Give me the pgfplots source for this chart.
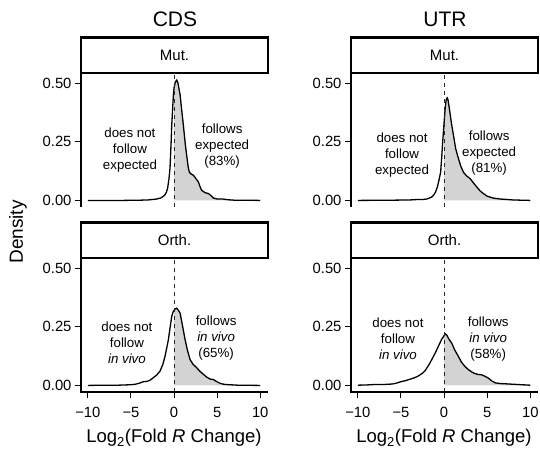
\documentclass[border=0pt]{standalone}
\usepackage{fontspec}
\setmainfont{Liberation Sans}
\usepackage{pgfplots}
\usepackage{pgfplotstable}
\pgfplotsset{compat=1.18}
\definecolor{shade}{RGB}{211,211,211}

% density curves
\pgfplotstableread{
x y
-10 0
-6 0
-4 0.001
-3 0.002
-2.5 0.004
-2.0 0.006
-1.5 0.011
-1.1 0.022
-0.9 0.034
-0.75 0.052
-0.6 0.09
-0.47 0.137
-0.35 0.24
-0.27 0.32
-0.15 0.40
-0.08 0.45
0 0.48
0.15 0.505
0.31 0.513
0.45 0.50
0.70 0.45
0.9 0.38
1.08 0.32
1.3 0.24
1.47 0.19
1.65 0.14
1.78 0.12
2.0 0.112
2.25 0.107
2.5 0.095
2.83 0.078
3.0 0.06
3.2 0.043
3.6 0.033
4.0 0.029
4.3 0.02
4.57 0.01
5.0 0.006
5.7 0.006
6.2 0.003
7 0.001
8 0.001
10 0
}\cdsmut

\pgfplotstableread{
x y
-10 0
-6 0.001
-4 0.002
-3 0.004
-2.5 0.004
-2.0 0.006
-1.5 0.013
-1.24 0.021
-1.0 0.035
-0.78 0.057
-0.6 0.085
-0.4 0.12
-0.28 0.18
-0.16 0.25
0 0.33
0.12 0.39
0.25 0.43
0.35 0.437
0.45 0.43
0.62 0.39
0.85 0.33
1.08 0.28
1.35 0.22
1.67 0.178
1.95 0.145
2.25 0.12
2.6 0.105
3.02 0.093
3.4 0.075
3.8 0.057
4.2 0.04
4.57 0.029
5.0 0.018
5.7 0.01
6.5 0.006
7.3 0.004
8 0.002
9 0.001
10 0
}\utrmut

\pgfplotstableread{
x y
-10 0
-8 0.001
-6.5 0.001
-5 0.003
-4.5 0.005
-4 0.01
-3.56 0.016
-3.18 0.017
-2.8 0.022
-2.4 0.033
-2.0 0.045
-1.63 0.061
-1.3 0.09
-1.05 0.124
-0.85 0.16
-0.66 0.195
-0.45 0.25
-0.27 0.294
-0.1 0.315
0 0.32
0.1 0.325
0.31 0.329
0.5 0.32
0.70 0.308
0.95 0.26
1.28 0.195
1.55 0.15
1.86 0.11
2.2 0.09
2.64 0.075
3.0 0.06
3.41 0.047
3.8 0.035
4.19 0.027
4.57 0.025
4.96 0.016
5.4 0.008
5.93 0.004
7.4 0.001
10 0
}\cdsorth

\pgfplotstableread{
x y
-10 0.001
-9 0.002
-8 0.004
-7 0.004
-6 0.006
-5.5 0.01
-5 0.016
-4.5 0.02
-4 0.026
-3.4 0.033
-3 0.04
-2.5 0.052
-2.2 0.063
-1.8 0.085
-1.43 0.11
-1.0 0.14
-0.66 0.167
-0.3 0.195
0 0.212
0.12 0.22
0.3 0.215
0.6 0.195
0.89 0.18
1.25 0.15
1.67 0.123
2.0 0.1
2.44 0.08
2.9 0.065
3.41 0.053
3.9 0.047
4.38 0.045
4.8 0.038
5.15 0.031
5.5 0.02
5.93 0.011
6.5 0.008
7.1 0.007
8 0.005
9 0.003
10 0.001
}\utrorth

\tikzset{
  curve/.style={black, line width=1.3pt},
  zero/.style={black!85, line width=1.1pt, dash pattern=on 4pt off 4pt},
  note/.style={align=center, font=\fontsize{13.3}{16}\selectfont},
  frame/.style={line width=1.6pt, black},
}

\pgfplotsset{
  panel/.style={
    scale only axis, width=187pt, height=134pt,
    xmin=-10.8, xmax=10.9, ymin=-0.028, ymax=0.543,
    axis line style={draw=none},
    xtick pos=left, ytick pos=left,
    tick align=outside, major tick length=6pt,
    tick style={line width=1pt, black},
    ytick={0,0.25,0.5}, yticklabels={0.00,0.25,0.50},
    ticklabel style={font=\fontsize{14.8}{17}\selectfont},
    clip=false,
  },
  toppanel/.style={panel, xtick=\empty},
  botpanel/.style={panel,
    xtick={-10,-5,0,5,10}, xticklabels={−10,−5,0,5,10},
    xticklabel style={yshift=-6pt}},
  area/.style={fill=shade, draw=none, restrict x to domain=0:10},
}

\newcommand{\strip}[1]{%
  \draw[line width=2.5pt] (rel axis cs:0,1) rectangle (rel axis cs:1,1.265);
  \node[font=\fontsize{15}{17}\selectfont] at (rel axis cs:0.5,1.1325) {#1};
}

\begin{document}
\begin{tikzpicture}
\useasboundingbox (0,0) rectangle (540pt,449pt);

\begin{axis}[toppanel, at={(81pt,242pt)}, anchor=south west]
\addplot[area] table {\cdsmut} \closedcycle;
\addplot[curve] table {\cdsmut};
\addplot[zero] coordinates {(0,-0.028) (0,0.543)};
\node[note] at (axis cs:-5.12,0.214) {does not\\follow\\expected};
\node[note] at (axis cs:5.58,0.231) {follows\\expected\\(83\%)};
\draw[frame] (rel axis cs:0,1) -- (rel axis cs:0,0);
\strip{Mut.}
\end{axis}

\begin{axis}[toppanel, at={(351pt,242pt)}, anchor=south west]
\addplot[area] table {\utrmut} \closedcycle;
\addplot[curve] table {\utrmut};
\addplot[zero] coordinates {(0,-0.028) (0,0.543)};
\node[note] at (axis cs:-4.88,0.192) {does not\\follow\\expected};
\node[note] at (axis cs:5.23,0.201) {follows\\expected\\(81\%)};
\draw[frame] (rel axis cs:0,1) -- (rel axis cs:0,0);
\strip{Mut.}
\end{axis}

\begin{axis}[botpanel, at={(81pt,57pt)}, anchor=south west]
\addplot[area] table {\cdsorth} \closedcycle;
\addplot[curve] table {\cdsorth};
\addplot[zero] coordinates {(0,-0.028) (0,0.543)};
\node[note] at (axis cs:-5.47,0.182) {does not\\follow\\\textit{in vivo}};
\node[note] at (axis cs:4.88,0.203) {follows\\\textit{in vivo}\\(65\%)};
\draw[frame] (rel axis cs:0,1) -- (rel axis cs:0,0) -- (rel axis cs:1,0);
\strip{Orth.}
\end{axis}

\begin{axis}[botpanel, at={(351pt,57pt)}, anchor=south west]
\addplot[area] table {\utrorth} \closedcycle;
\addplot[curve] table {\utrorth};
\addplot[zero] coordinates {(0,-0.028) (0,0.543)};
\node[note] at (axis cs:-5.35,0.199) {does not\\follow\\\textit{in vivo}};
\node[note] at (axis cs:5.12,0.199) {follows\\\textit{in vivo}\\(58\%)};
\draw[frame] (rel axis cs:0,1) -- (rel axis cs:0,0) -- (rel axis cs:1,0);
\strip{Orth.}
\end{axis}

\node[font=\fontsize{21}{24}\selectfont] at (175pt,430pt) {CDS};
\node[font=\fontsize{21}{24}\selectfont] at (445pt,430pt) {UTR};
\node[font=\fontsize{19}{22}\selectfont, rotate=90] at (18pt,217pt) {Density};
\node[font=\fontsize{18.5}{22}\selectfont, anchor=base] at (174pt,6pt) {Log\textsubscript{2}(Fold \textit{R} Change)};
\node[font=\fontsize{18.5}{22}\selectfont, anchor=base] at (444pt,6pt) {Log\textsubscript{2}(Fold \textit{R} Change)};
\end{tikzpicture}
\end{document}
